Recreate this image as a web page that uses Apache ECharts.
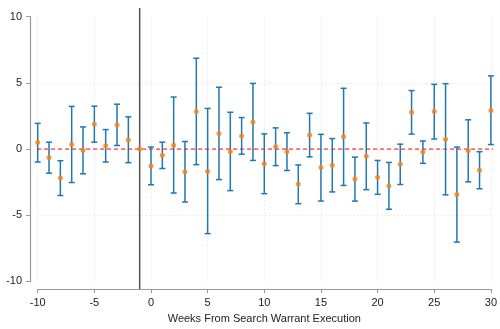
<!DOCTYPE html>
<html>
<head>
<meta charset="utf-8">
<script src="https://cdn.jsdelivr.net/npm/echarts@6/dist/echarts.min.js"></script>
<style>
    html, body { margin: 0; padding: 0; background: #fff; }
    #chart { width: 500px; height: 329px; }
</style>
</head>
<body>
<div id="chart"></div>
<script>
// weeks relative to warrant execution, point estimate and CI bounds
let weeks = [-10,-9,-8,-7,-6,-5,-4,-3,-2,-1,0,1,2,3,4,5,6,7,8,9,10,11,12,13,14,15,16,17,18,19,20,21,22,23,24,25,26,27,28,29,30];
let est = [0.49,-0.64,-2.19,0.34,-0.10,1.87,0.25,1.82,0.69,0,
    -1.28,-0.47,0.29,-1.72,2.83,-1.67,1.18,-0.20,0.98,2.04,
    -1.11,0.17,-0.20,-2.65,1.06,-1.40,-1.23,0.93,-2.26,-0.54,
    -2.14,-2.78,-1.15,2.78,-0.22,2.83,0.74,-3.44,-0.12,-1.60,
    2.92];
let upper = [1.94,0.52,-0.88,3.22,1.67,3.24,1.47,3.39,2.43,0,
    0.15,0.52,3.93,0.57,6.86,3.07,4.67,2.78,2.38,4.96,
    1.15,1.60,1.23,-1.20,2.70,1.11,0.79,4.59,-0.61,1.97,
    -0.86,-1.01,0.37,4.42,0.61,4.89,4.94,0.15,2.21,-0.20,
    5.53];
let lower = [-0.98,-1.82,-3.51,-2.53,-1.87,0.52,-0.98,0.27,-1.03,0,
    -2.70,-1.47,-3.32,-4.00,-1.18,-6.39,-2.31,-3.14,-0.39,-0.86,
    -3.37,-1.25,-1.62,-4.13,-0.59,-3.93,-3.24,-2.75,-3.93,-3.07,
    -3.42,-4.55,-2.68,1.13,-1.08,0.76,-3.46,-7.03,-2.48,-3.00,
    0.34];
let xTicks = [-10, 30, 5];   // min, max, step
let yTicks = [-10, 10, 5];
// reference lines (extend a bit past the axis range, like Stata's plot region)
let zeroLine = [[-10.67, 0], [30.3, 0]];
let eventLine = [[-1, 10.65], [-1, -10.57]];

let barData = [];
let pointData = [];
for (let i = 0; i < weeks.length; i++) {
    if (upper[i] !== lower[i]) barData.push([weeks[i], lower[i], upper[i]]);
    pointData.push([weeks[i], est[i]]);
}

let font = 'Liberation Sans';
let myChart = echarts.init(document.getElementById('chart'));
myChart.setOption({
    animation: false,
    grid: { left: 37.7, right: 3.5, top: 16.7, bottom: 40.7 },
    xAxis: {
        type: 'value',
        min: xTicks[0], max: xTicks[1], interval: xTicks[2],
        offset: 7.7,
        name: 'Weeks From Search Warrant Execution',
        nameLocation: 'middle',
        nameGap: 21,
        nameTextStyle: { fontFamily: font, fontSize: 11, color: '#222' },
        axisLine: { onZero: false, lineStyle: { color: '#999', width: 1.2 } },
        axisTick: { length: 4, lineStyle: { color: '#999' } },
        axisLabel: { fontFamily: font, fontSize: 11, color: '#222', margin: 8, alignMaxLabel: 'center', alignMinLabel: 'center' },
        splitLine: { show: true, lineStyle: { color: '#d8d8d8', type: [1, 3] } }
    },
    yAxis: {
        type: 'value',
        min: yTicks[0], max: yTicks[1], interval: yTicks[2],
        offset: 7.7,
        axisLine: { show: true, onZero: false, lineStyle: { color: '#999', width: 1.2 } },
        axisTick: { show: true, length: 4, lineStyle: { color: '#999' } },
        axisLabel: { fontFamily: font, fontSize: 11, color: '#222', margin: 8 },
        splitLine: {
            show: true,
            lineStyle: {
                color: ['rgba(0,0,0,0)', '#d8d8d8', '#d8d8d8', '#d8d8d8', 'rgba(0,0,0,0)'],
                type: [1, 3]
            }
        }
    },
    series: [
        {
            type: 'line',
            data: eventLine,
            clip: false,
            symbol: 'none',
            silent: true,
            lineStyle: { color: '#555', width: 1.5 },
            z: 1
        },
        {
            type: 'line',
            data: zeroLine,
            clip: false,
            symbol: 'none',
            silent: true,
            lineStyle: { color: '#ff0000', width: 1, type: [4, 3] },
            z: 2
        },
        {
            type: 'custom',
            data: barData,
            encode: { x: 0, y: [1, 2] },
            z: 3,
            renderItem: function (params, api) {
                let x = api.value(0);
                let lo = api.coord([x, api.value(1)]);
                let hi = api.coord([x, api.value(2)]);
                let cap = 3;
                let style = { stroke: '#1f77b4', lineWidth: 1.5 };
                return {
                    type: 'group',
                    children: [
                        { type: 'line', shape: { x1: lo[0], y1: lo[1], x2: hi[0], y2: hi[1] }, style: style },
                        { type: 'line', shape: { x1: hi[0] - cap, y1: hi[1], x2: hi[0] + cap, y2: hi[1] }, style: style },
                        { type: 'line', shape: { x1: lo[0] - cap, y1: lo[1], x2: lo[0] + cap, y2: lo[1] }, style: style }
                    ]
                };
            }
        },
        {
            type: 'scatter',
            data: pointData,
            symbol: 'circle',
            symbolSize: 5,
            itemStyle: { color: '#ff7f0e' },
            z: 4
        }
    ]
});
</script>
</body>
</html>
